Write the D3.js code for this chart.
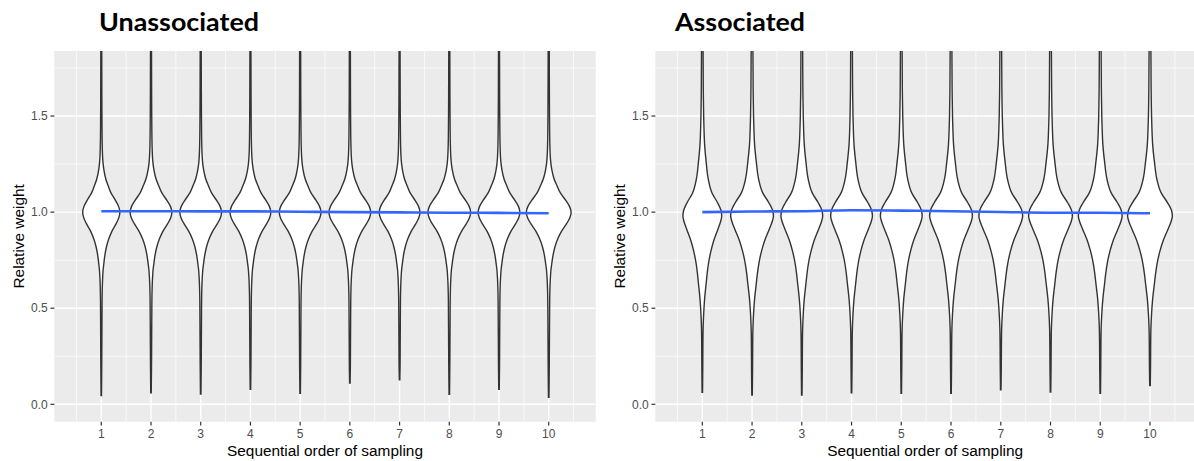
<!DOCTYPE html>
<html>
<head>
<meta charset="utf-8">
<script src="https://cdn.jsdelivr.net/npm/d3@7"></script>
<style>
  html, body { margin: 0; padding: 0; background: #fff; }
  svg { display: block; }
</style>
</head>
<body>
<svg id="chart" width="1194" height="461"></svg>
<script>
// ---------------- DATA ----------------
const categories = [1, 2, 3, 4, 5, 6, 7, 8, 9, 10];
const xTickLabels = ["1", "2", "3", "4", "5", "6", "7", "8", "9", "10"];
const yTickValues = [0, 0.5, 1.0, 1.5];
const yTickLabels = ["0.0", "0.5", "1.0", "1.5"];
const panelTitles = ["Unassociated", "Associated"];
const xAxisTitle = "Sequential order of sampling";
const yAxisTitle = "Relative weight";

// Violin density profile (shared shape per panel): weight levels and relative half-widths
const unassocLevels  = [0.2, 0.3, 0.4, 0.5, 0.56, 0.65, 0.7, 0.735, 0.78, 0.82, 0.86, 0.9, 0.94, 0.97, 1.0, 1.03, 1.06, 1.1, 1.14, 1.17, 1.22, 1.26, 1.35, 1.5, 1.7, 1.95];
const unassocProfile = [0.025, 0.03, 0.035, 0.04, 0.045, 0.07, 0.1, 0.14, 0.2, 0.28, 0.4, 0.57, 0.8, 0.94, 1.0, 0.93, 0.77, 0.52, 0.36, 0.25, 0.14, 0.09, 0.05, 0.035, 0.028, 0.022];
// Peak half-width of each violin (x units) and lowest observed weight
const unassocPeakWidth = [0.374, 0.42, 0.42, 0.41, 0.42, 0.42, 0.41, 0.43, 0.42, 0.45];
const unassocMin       = [0.045, 0.06, 0.054, 0.078, 0.057, 0.11, 0.127, 0.052, 0.078, 0.036];
// Smoothed trend (blue line)
const unassocSmooth    = [1.005, 1.005, 1.004, 1.004, 1.002, 1.000, 0.999, 0.997, 0.996, 0.994];

const assocLevels  = [0.2, 0.3, 0.39, 0.47, 0.55, 0.63, 0.68, 0.734, 0.8, 0.855, 0.91, 0.95, 0.98, 1.01, 1.05, 1.1, 1.17, 1.26, 1.35, 1.44, 1.5, 1.65, 1.95];
const assocProfile = [0.025, 0.03, 0.04, 0.07, 0.12, 0.2, 0.25, 0.32, 0.45, 0.6, 0.8, 0.94, 1.0, 0.96, 0.78, 0.5, 0.31, 0.2, 0.12, 0.085, 0.07, 0.05, 0.035];
const assocPeakWidth = [0.39, 0.43, 0.42, 0.42, 0.42, 0.43, 0.44, 0.44, 0.44, 0.45];
const assocMin       = [0.0625, 0.048, 0.048, 0.06, 0.057, 0.057, 0.075, 0.064, 0.057, 0.097];
const assocSmooth    = [1.000, 1.003, 1.005, 1.010, 1.008, 1.005, 1.001, 0.997, 0.997, 0.994];

// ---------------- DRAW ----------------
const svg = d3.select("#chart");
svg.append("rect").attr("width", 1194).attr("height", 461).attr("fill", "#ffffff");

const panels = [
  { title: panelTitles[0], levels: unassocLevels, profile: unassocProfile, peak: unassocPeakWidth, mins: unassocMin, smooth: unassocSmooth,
    left: 54.3, right: 595.7, titleX: 99, titleW: 160, yTitleX: 19 },
  { title: panelTitles[1], levels: assocLevels, profile: assocProfile, peak: assocPeakWidth, mins: assocMin, smooth: assocSmooth,
    left: 655.3, right: 1197, titleX: 675, titleW: 130, yTitleX: 620 }
];

const panelTop = 51, panelBottom = 421.7;

panels.forEach((p, pi) => {
  const x = d3.scaleLinear().domain([0.055, 10.945]).range([p.left, p.right]);
  const y = d3.scaleLinear().domain([-0.0905, 1.8385]).range([panelBottom, panelTop]);
  const g = svg.append("g");

  const clipId = "clip" + pi;
  svg.append("clipPath").attr("id", clipId)
    .append("rect").attr("x", p.left).attr("y", panelTop).attr("width", p.right - p.left).attr("height", panelBottom - panelTop);

  g.append("rect").attr("x", p.left).attr("y", panelTop).attr("width", p.right - p.left).attr("height", panelBottom - panelTop)
    .attr("fill", "#EBEBEB");

  const grid = g.append("g").attr("clip-path", `url(#${clipId})`);
  const yMinor = [-0.25, 0.25, 0.75, 1.25, 1.75];
  const xMinor = d3.range(0, 11).map(v => v + 0.5);
  grid.selectAll(".ymin").data(yMinor).join("line")
    .attr("x1", p.left).attr("x2", p.right).attr("y1", d => y(d)).attr("y2", d => y(d))
    .attr("stroke", "#ffffff").attr("stroke-width", 0.7);
  grid.selectAll(".xmin").data(xMinor).join("line")
    .attr("y1", panelTop).attr("y2", panelBottom).attr("x1", d => x(d)).attr("x2", d => x(d))
    .attr("stroke", "#ffffff").attr("stroke-width", 0.7);
  grid.selectAll(".ymaj").data(yTickValues).join("line")
    .attr("x1", p.left).attr("x2", p.right).attr("y1", d => y(d)).attr("y2", d => y(d))
    .attr("stroke", "#ffffff").attr("stroke-width", 1.4);
  grid.selectAll(".xmaj").data(categories).join("line")
    .attr("y1", panelTop).attr("y2", panelBottom).attr("x1", d => x(d)).attr("x2", d => x(d))
    .attr("stroke", "#ffffff").attr("stroke-width", 1.4);

  // violins
  const vg = g.append("g").attr("clip-path", `url(#${clipId})`);
  categories.forEach((c, i) => {
    const minV = p.mins[i];
    const pts = [{ v: minV, w: 0.012 }];
    p.levels.forEach((lv, j) => { if (lv > minV + 0.02) pts.push({ v: lv, w: p.profile[j] }); });
    const scale = p.peak[i];
    const area = d3.area()
      .y(d => y(d.v))
      .x0(d => x(c - d.w * scale))
      .x1(d => x(c + d.w * scale))
      .curve(d3.curveMonotoneY);
    vg.append("path").attr("d", area(pts))
      .attr("fill", "#ffffff").attr("stroke", "#333333").attr("stroke-width", 1.4);
  });

  // smooth line
  const line = d3.line().x((d, i) => x(categories[i])).y(d => y(d)).curve(d3.curveMonotoneX);
  g.append("path").attr("d", line(p.smooth)).attr("fill", "none")
    .attr("stroke", "#3366FF").attr("stroke-width", 2.6).attr("clip-path", `url(#${clipId})`);

  // y axis
  g.selectAll(".ytick").data(yTickValues).join("line")
    .attr("x1", p.left - 3.8).attr("x2", p.left).attr("y1", d => y(d)).attr("y2", d => y(d))
    .attr("stroke", "#333333").attr("stroke-width", 1.2);
  g.selectAll(".ylab").data(yTickValues).join("text")
    .attr("x", p.left - 6.5).attr("y", d => y(d) + 4.2)
    .attr("text-anchor", "end").attr("font-family", "Liberation Sans, Arial, sans-serif")
    .attr("font-size", 12).attr("fill", "#4D4D4D")
    .text((d, i) => yTickLabels[i]);

  // x axis
  g.selectAll(".xtick").data(categories).join("line")
    .attr("y1", panelBottom).attr("y2", panelBottom + 3.8).attr("x1", d => x(d)).attr("x2", d => x(d))
    .attr("stroke", "#333333").attr("stroke-width", 1.2);
  g.selectAll(".xlab").data(categories).join("text")
    .attr("x", d => x(d)).attr("y", panelBottom + 16)
    .attr("text-anchor", "middle").attr("font-family", "Liberation Sans, Arial, sans-serif")
    .attr("font-size", 12).attr("fill", "#4D4D4D")
    .text((d, i) => xTickLabels[i]);

  // axis titles
  g.append("text").attr("x", (p.left + p.right) / 2 + (pi === 1 ? -1 : 0)).attr("y", 456)
    .attr("text-anchor", "middle").attr("font-family", "Liberation Sans, Arial, sans-serif")
    .attr("font-size", 15.4).attr("fill", "#000").text(xAxisTitle);
  g.append("text")
    .attr("transform", `translate(${p.yTitleX + 5.4},${(panelTop + panelBottom) / 2}) rotate(-90)`)
    .attr("text-anchor", "middle").attr("font-family", "Liberation Sans, Arial, sans-serif")
    .attr("font-size", 15.4).attr("fill", "#000").text(yAxisTitle);

  // panel title
  svg.append("text").attr("x", p.titleX).attr("y", 31)
    .attr("font-family", "Lato, 'Open Sans', sans-serif").attr("font-weight", "bold")
    .attr("font-size", 25).attr("fill", "#000")
    .attr("textLength", p.titleW).attr("lengthAdjust", "spacingAndGlyphs")
    .text(p.title);
});
</script>
</body>
</html>
